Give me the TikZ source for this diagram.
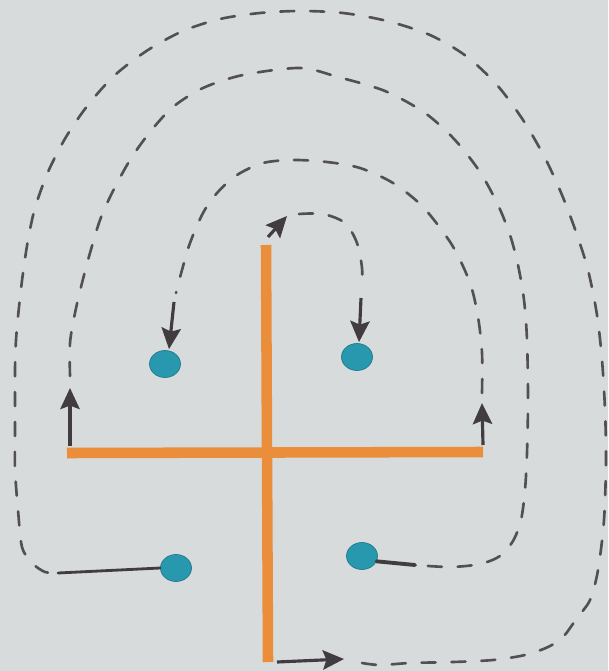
\documentclass[tikz,border=0pt]{standalone}
\usetikzlibrary{arrows.meta,shapes.geometric,calc}
\definecolor{paper}{RGB}{216,219,219}
\definecolor{pole}{RGB}{234,142,60}
\definecolor{charge}{RGB}{40,152,174}
\definecolor{ink}{RGB}{64,60,64}
\begin{document}
\begin{tikzpicture}[x=0.02cm,y=-0.02cm,
  polestyle/.style={pole, line width=6pt},
  dotstyle/.style={ellipse, fill=charge, draw=charge!80!black, line width=0.4pt, minimum width=0.62cm, minimum height=0.54cm, inner sep=0pt},
  fieldline/.style={ink!90, line width=1.5pt, dash pattern=on 8pt off 9pt, line cap=round},
  arrowline/.style={ink, line width=1.8pt, -{Stealth[length=12pt,width=11pt,inset=2pt]}},
  tailline/.style={ink, line width=1.6pt, line cap=round}
]
\fill[paper] (0,0) rectangle (608,671);
\useasboundingbox (0,0) rectangle (608,671);

% magnet cross
\coordinate (vtop) at (266,245);
\coordinate (vbot) at (268,662);
\coordinate (hleft) at (67,453);
\coordinate (hright) at (483,452);
\draw[polestyle] (vtop) -- (vbot);
\draw[polestyle] (hleft) -- (hright);

% charges
\node[dotstyle] (TL) at (165,364) {};
\node[dotstyle] (TR) at (357,357) {};
\node[dotstyle] (BL) at (176,568) {};
\node[dotstyle] (BR) at (362,556) {};

% A: top end -> top right dot
\coordinate (a1) at (287,216);
\coordinate (a2) at (361,298);
\draw[arrowline] ($(vtop)+(2,-8)$) -- (a1);
\draw[fieldline] plot[smooth] coordinates {(299,214) (323,214) (345,223) (357,243) (362,268) (362,290)};
\draw[arrowline] (a2) -- ($(TR.north)+(2,-1)$);

% B: right end -> top left dot
\coordinate (b1) at (482,403);
\coordinate (b2) at (174,302);
\draw[arrowline] ($(hright)+(0,-7)$) -- (b1);
\draw[fieldline] plot[smooth] coordinates {(482,393) (482,353) (478,317) (470,283) (452,245) (423,207) (393,183) (360,168) (327,162) (293,160) (263,163) (237,175) (217,193) (203,213) (190,243) (182,270) (176,293)};
\draw[arrowline] (b2) -- ($(TL.north)+(4,-1)$);

% C: left end -> bottom right dot
\coordinate (c1) at (70,388);
\coordinate (c2) at (415,565);
\draw[arrowline] ($(hleft)+(3,-7)$) -- (c1);
\draw[fieldline] plot[smooth] coordinates {(70,376) (70,343) (75,313) (82,283) (90,253) (100,220) (112,193) (130,160) (150,132) (173,107) (203,88) (243,75) (300,68) (338,77) (385,91) (425,113) (455,140) (480,172) (498,205) (510,235) (518,265) (524,300) (527,340) (528,400) (527,453) (525,490) (521,520) (513,541) (500,556) (480,564) (450,567) (415,565)};
\draw[tailline, line width=2.2pt] (BR.-20) -- (c2);

% D: bottom end -> bottom left dot
\coordinate (d1) at (344,659);
\coordinate (d2) at (58,573);
\draw[arrowline] ($(vbot)+(9,0)$) -- (d1);
\draw[fieldline] plot[smooth] coordinates {(362,663) (380,665) (410,663) (453,662) (493,660) (525,655) (548,647) (563,637) (577,618) (590,600) (598,570) (604,520) (606,460) (605,410) (602,360) (597,315) (588,270) (576,232) (562,195) (545,158) (523,120) (497,85) (466,56) (430,35) (387,21) (343,13) (300,11) (260,13) (220,19) (183,31) (148,50) (115,75) (88,105) (66,137) (48,172) (35,208) (28,240) (23,273) (19,307) (16,340) (15,370) (15,403) (15,437) (15,470) (18,510) (22,547) (32,563) (45,572) (58,573)};
\draw[tailline] (d2) -- (BL.west);
\end{tikzpicture}
\end{document}
